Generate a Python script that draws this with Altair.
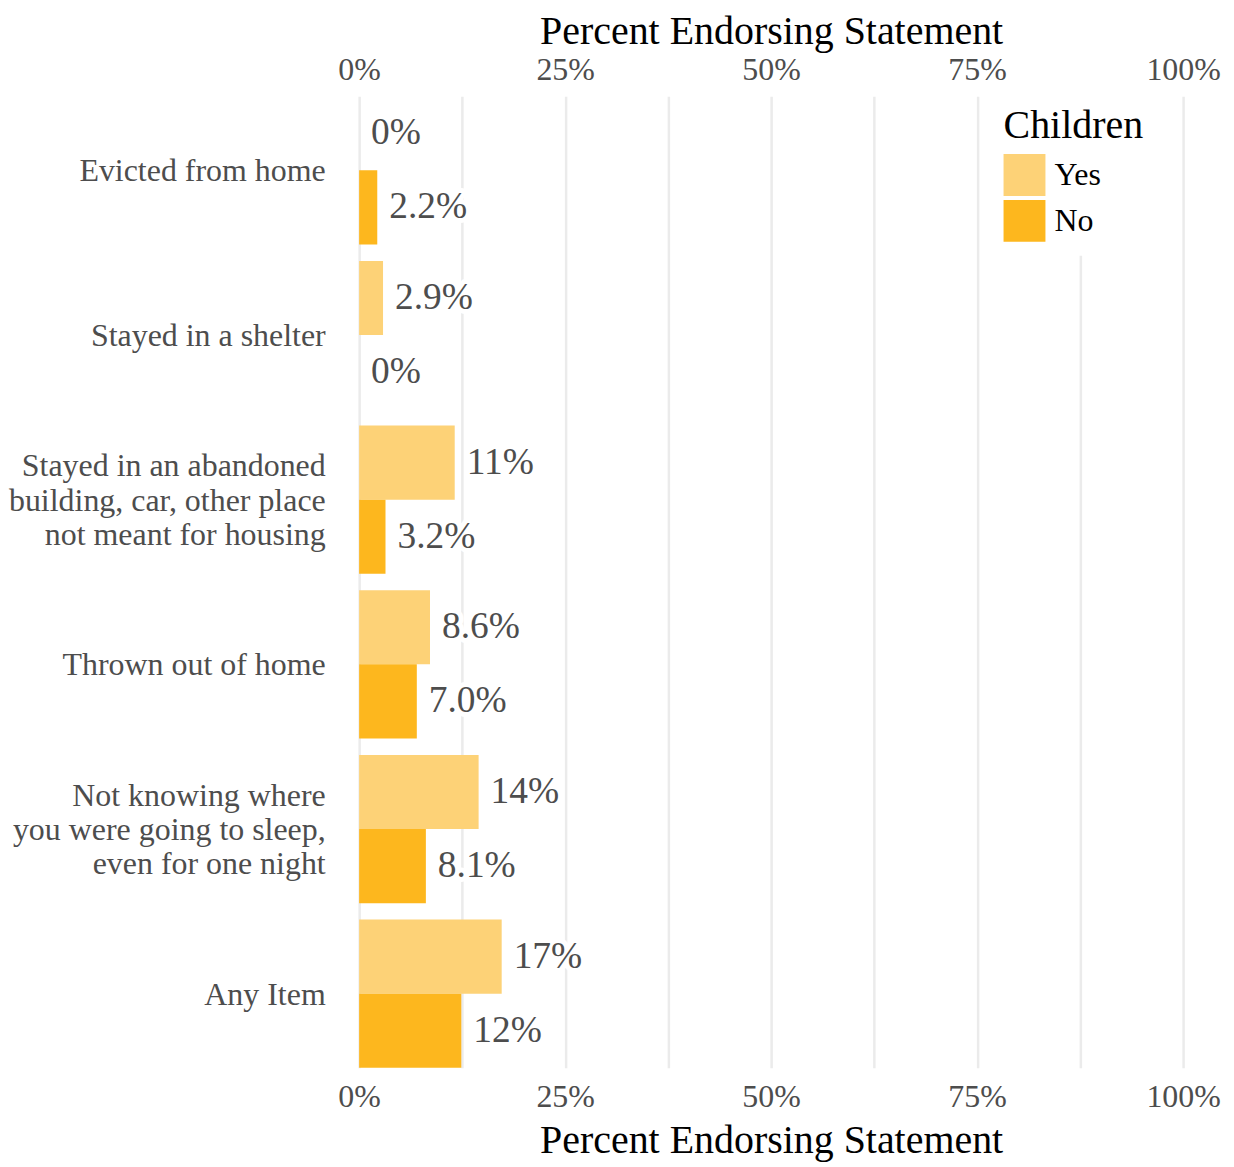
import altair as alt
import pandas as pd

categories = [
    "Evicted from home",
    "Stayed in a shelter",
    "Stayed in an abandoned\nbuilding, car, other place\nnot meant for housing",
    "Thrown out of home",
    "Not knowing where\nyou were going to sleep,\neven for one night",
    "Any Item",
]
groups = ["Yes", "No"]
yes_values = [0.0, 2.9, 11.6, 8.6, 14.5, 17.3]
yes_labels = ["0%", "2.9%", "11%", "8.6%", "14%", "17%"]
no_values = [2.2, 0.0, 3.2, 7.0, 8.1, 12.4]
no_labels = ["2.2%", "0%", "3.2%", "7.0%", "8.1%", "12%"]
grid_ticks = [0, 12.5, 25, 37.5, 50, 62.5, 75, 87.5, 100]
label_ticks = [0, 25, 50, 75, 100]

rows = []
for c, v, l in zip(categories, yes_values, yes_labels):
    rows.append({"item": c, "group": "Yes", "value": v, "label": l})
for c, v, l in zip(categories, no_values, no_labels):
    rows.append({"item": c, "group": "No", "value": v, "label": l})
df = pd.DataFrame(rows)

FONT = "Liberation Serif"
GREY = "#4D4D4D"
LH = 34.5
x_scale = alt.Scale(domain=[0, 100], nice=False, zero=True)
y_enc = alt.Y(
    "item:N",
    sort=categories,
    scale=alt.Scale(paddingInner=0.1, paddingOuter=0),
    axis=alt.Axis(
        title=None,
        labelExpr="split(datum.label, '\\n')",
        labelLineHeight=LH,
        labelPadding=34,
        labelLimit=0,
        labelFontSize=32,
        labelOffset={
            "condition": {
                "test": "length(split(datum.value, '\\n')) > 1",
                "value": 1 - LH,
            },
            "value": 1,
        },
        grid=False,
    ),
)
yoff = alt.YOffset("group:N", sort=groups, scale=alt.Scale(paddingInner=0, paddingOuter=0))

base = alt.Chart(df)

bars = base.mark_bar().encode(
    x=alt.X(
        "value:Q",
        scale=x_scale,
        axis=alt.Axis(
            orient="top",
            values=label_ticks,
            labelExpr="datum.value + '%'",
            labelFlush=False,
            title="Percent Endorsing Statement",
            grid=False,
            labelPadding=10,
            titlePadding=2,
        ),
    ),
    y=y_enc,
    yOffset=yoff,
    color=alt.Color(
        "group:N",
        sort=groups,
        scale=alt.Scale(domain=groups, range=["#FDD277", "#FDB71E"]),
        legend=alt.Legend(
            title="Children",
            orient="none",
            legendX=632,
            legendY=-4,
            padding=14,
            fillColor="white",
            titleFontSize=40,
            titleFont=FONT,
            titleFontWeight="normal",
            titleColor="black",
            titlePadding=8,
            labelFontSize=32,
            labelFont=FONT,
            labelColor="black",
            labelOffset=9,
            symbolType="square",
            symbolSize=1764,
            symbolStrokeWidth=0,
            symbolOpacity=1,
            rowPadding=4,
        ),
    ),
)

halo = base.mark_text(
    align="left", baseline="middle", dx=12, fontSize=37.5, font=FONT,
    fill="white", stroke="white", strokeWidth=10, strokeJoin="round",
).encode(
    x=alt.X(
        "value:Q",
        scale=x_scale,
        axis=alt.Axis(
            orient="bottom",
            values=grid_ticks,
            labelExpr="datum.value % 25 == 0 ? datum.value + '%' : ''",
            labelFlush=False,
            title="Percent Endorsing Statement",
            grid=True,
            gridColor="#EBEBEB",
            gridWidth=2.5,
            labelPadding=14,
            titlePadding=8,
        ),
    ),
    y=y_enc,
    yOffset=yoff,
    text="label:N",
)

text = base.mark_text(
    align="left", baseline="middle", dx=12, fontSize=37.5, font=FONT, color=GREY,
).encode(
    x=alt.X("value:Q", scale=x_scale, axis=None),
    y=y_enc,
    yOffset=yoff,
    text="label:N",
)

chart = (
    alt.layer(bars, halo, text)
    .resolve_axis(x="independent")
    .properties(width=826, height=974, padding={"left": 0, "top": 2, "right": 5, "bottom": 0})
    .configure_view(stroke=None)
    .configure_axis(
        labelFont=FONT,
        labelColor=GREY,
        labelFontSize=32,
        titleFont=FONT,
        titleFontSize=40,
        titleFontWeight="normal",
        titleColor="black",
        domain=False,
        ticks=False,
    )
)

chart.save("out.html", embed_options={"renderer": "svg", "actions": False})
